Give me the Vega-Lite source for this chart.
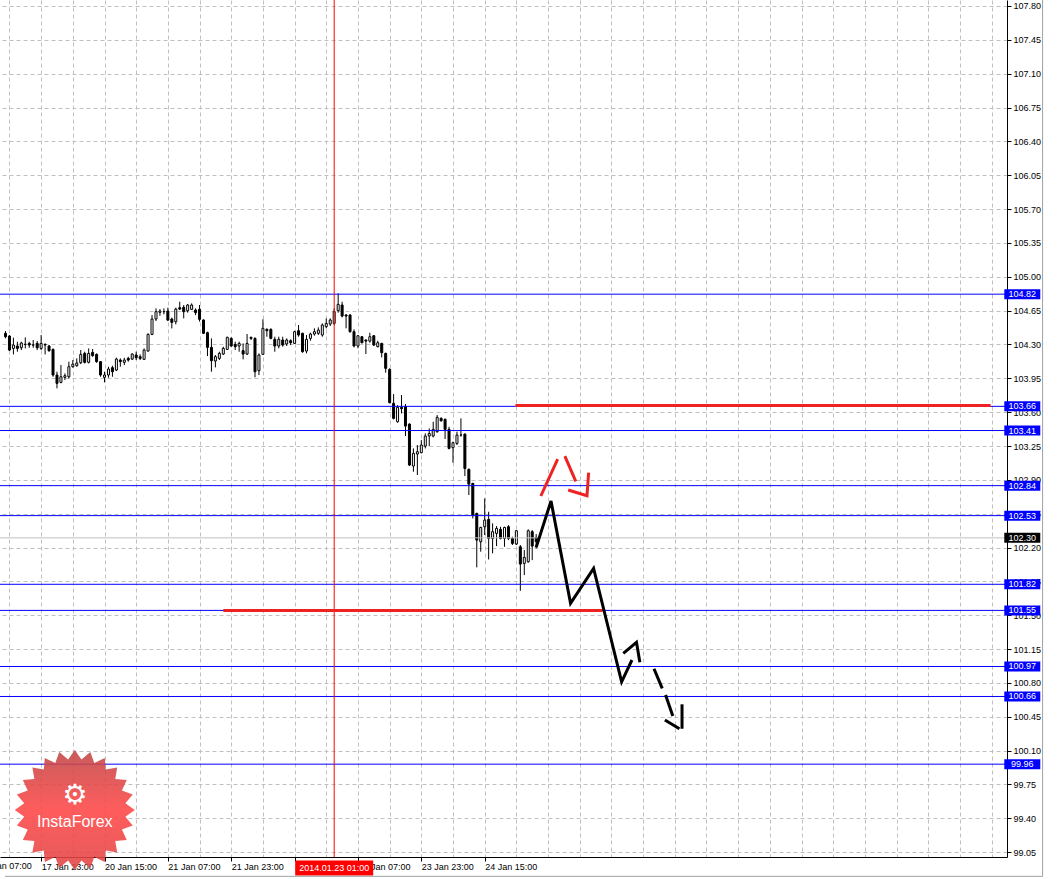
{
  "$schema": "https://vega.github.io/schema/vega-lite/v6.json",
  "width": 1007,
  "height": 857,
  "autosize": {"type": "none"},
  "padding": {"left": 0, "top": 0, "right": 51, "bottom": 22},
  "background": "white",
  "config": {
    "view": {"stroke": null},
    "axis": {"labelFont": "Liberation Sans", "labelFontSize": 9, "labelColor": "#000000", "title": null}
  },
  "datasets": {
    "candles": [
      {"t":0,"o":104.415,"h":104.439,"l":104.363,"c":104.380},
      {"t":1,"o":104.387,"h":104.397,"l":104.232,"c":104.242},
      {"t":2,"o":104.259,"h":104.370,"l":104.197,"c":104.294},
      {"t":3,"o":104.284,"h":104.328,"l":104.225,"c":104.259},
      {"t":4,"o":104.266,"h":104.328,"l":104.242,"c":104.315},
      {"t":5,"o":104.301,"h":104.373,"l":104.259,"c":104.301},
      {"t":6,"o":104.311,"h":104.328,"l":104.266,"c":104.294},
      {"t":7,"o":104.294,"h":104.346,"l":104.266,"c":104.294},
      {"t":8,"o":104.311,"h":104.335,"l":104.242,"c":104.266},
      {"t":9,"o":104.259,"h":104.397,"l":104.242,"c":104.311},
      {"t":10,"o":104.301,"h":104.311,"l":104.197,"c":104.294},
      {"t":11,"o":104.284,"h":104.294,"l":104.225,"c":104.235},
      {"t":12,"o":104.249,"h":104.259,"l":103.966,"c":103.984},
      {"t":13,"o":103.984,"h":104.018,"l":103.846,"c":103.898},
      {"t":14,"o":103.908,"h":104.087,"l":103.898,"c":103.966},
      {"t":15,"o":103.960,"h":104.001,"l":103.932,"c":103.977},
      {"t":16,"o":103.966,"h":104.122,"l":103.949,"c":104.070},
      {"t":17,"o":104.070,"h":104.139,"l":104.060,"c":104.097},
      {"t":18,"o":104.080,"h":104.156,"l":104.070,"c":104.108},
      {"t":19,"o":104.111,"h":104.242,"l":104.097,"c":104.197},
      {"t":20,"o":104.208,"h":104.225,"l":104.104,"c":104.115},
      {"t":21,"o":104.115,"h":104.259,"l":104.104,"c":104.208},
      {"t":22,"o":104.218,"h":104.253,"l":104.173,"c":104.184},
      {"t":23,"o":104.197,"h":104.208,"l":104.111,"c":104.122},
      {"t":24,"o":104.122,"h":104.128,"l":103.966,"c":103.984},
      {"t":25,"o":103.960,"h":104.018,"l":103.908,"c":103.984},
      {"t":26,"o":103.984,"h":104.070,"l":103.956,"c":104.046},
      {"t":27,"o":104.060,"h":104.080,"l":103.966,"c":104.018},
      {"t":28,"o":104.035,"h":104.163,"l":104.025,"c":104.149},
      {"t":29,"o":104.139,"h":104.156,"l":104.070,"c":104.122},
      {"t":30,"o":104.115,"h":104.163,"l":104.087,"c":104.139},
      {"t":31,"o":104.156,"h":104.173,"l":104.122,"c":104.139},
      {"t":32,"o":104.149,"h":104.208,"l":104.139,"c":104.201},
      {"t":33,"o":104.191,"h":104.225,"l":104.139,"c":104.163},
      {"t":34,"o":104.173,"h":104.197,"l":104.139,"c":104.156},
      {"t":35,"o":104.146,"h":104.259,"l":104.139,"c":104.242},
      {"t":36,"o":104.232,"h":104.415,"l":104.225,"c":104.404},
      {"t":37,"o":104.404,"h":104.604,"l":104.397,"c":104.563},
      {"t":38,"o":104.563,"h":104.673,"l":104.542,"c":104.639},
      {"t":39,"o":104.632,"h":104.666,"l":104.597,"c":104.646},
      {"t":40,"o":104.639,"h":104.673,"l":104.611,"c":104.639},
      {"t":41,"o":104.646,"h":104.680,"l":104.542,"c":104.552},
      {"t":42,"o":104.563,"h":104.577,"l":104.466,"c":104.528},
      {"t":43,"o":104.535,"h":104.680,"l":104.508,"c":104.666},
      {"t":44,"o":104.680,"h":104.742,"l":104.656,"c":104.666},
      {"t":45,"o":104.684,"h":104.708,"l":104.570,"c":104.639},
      {"t":46,"o":104.649,"h":104.718,"l":104.629,"c":104.708},
      {"t":47,"o":104.663,"h":104.725,"l":104.656,"c":104.708},
      {"t":48,"o":104.656,"h":104.673,"l":104.604,"c":104.629},
      {"t":49,"o":104.663,"h":104.708,"l":104.536,"c":104.560},
      {"t":50,"o":104.553,"h":104.560,"l":104.408,"c":104.415},
      {"t":51,"o":104.422,"h":104.432,"l":104.180,"c":104.270},
      {"t":52,"o":104.270,"h":104.363,"l":104.018,"c":104.132},
      {"t":53,"o":104.129,"h":104.191,"l":104.063,"c":104.174},
      {"t":54,"o":104.156,"h":104.225,"l":104.139,"c":104.208},
      {"t":55,"o":104.201,"h":104.277,"l":104.191,"c":104.260},
      {"t":56,"o":104.249,"h":104.380,"l":104.243,"c":104.374},
      {"t":57,"o":104.363,"h":104.374,"l":104.277,"c":104.284},
      {"t":58,"o":104.301,"h":104.329,"l":104.243,"c":104.277},
      {"t":59,"o":104.284,"h":104.329,"l":104.225,"c":104.311},
      {"t":60,"o":104.236,"h":104.311,"l":104.146,"c":104.201},
      {"t":61,"o":104.201,"h":104.408,"l":104.191,"c":104.311},
      {"t":62,"o":104.374,"h":104.380,"l":104.346,"c":104.363},
      {"t":63,"o":104.363,"h":104.374,"l":103.960,"c":104.018},
      {"t":64,"o":104.029,"h":104.208,"l":103.984,"c":104.191},
      {"t":65,"o":104.198,"h":104.560,"l":104.191,"c":104.467},
      {"t":66,"o":104.456,"h":104.467,"l":104.380,"c":104.442},
      {"t":67,"o":104.456,"h":104.467,"l":104.353,"c":104.363},
      {"t":68,"o":104.353,"h":104.380,"l":104.225,"c":104.284},
      {"t":69,"o":104.284,"h":104.380,"l":104.260,"c":104.353},
      {"t":70,"o":104.346,"h":104.380,"l":104.277,"c":104.294},
      {"t":71,"o":104.305,"h":104.363,"l":104.284,"c":104.346},
      {"t":72,"o":104.339,"h":104.353,"l":104.294,"c":104.318},
      {"t":73,"o":104.311,"h":104.442,"l":104.305,"c":104.432},
      {"t":74,"o":104.442,"h":104.501,"l":104.380,"c":104.398},
      {"t":75,"o":104.415,"h":104.422,"l":104.215,"c":104.225},
      {"t":76,"o":104.232,"h":104.398,"l":104.208,"c":104.353},
      {"t":77,"o":104.363,"h":104.422,"l":104.339,"c":104.408},
      {"t":78,"o":104.408,"h":104.467,"l":104.391,"c":104.432},
      {"t":79,"o":104.415,"h":104.477,"l":104.398,"c":104.449},
      {"t":80,"o":104.398,"h":104.518,"l":104.380,"c":104.501},
      {"t":81,"o":104.484,"h":104.570,"l":104.467,"c":104.518},
      {"t":82,"o":104.511,"h":104.570,"l":104.491,"c":104.553},
      {"t":83,"o":104.518,"h":104.673,"l":104.501,"c":104.639},
      {"t":84,"o":104.649,"h":104.829,"l":104.629,"c":104.715},
      {"t":85,"o":104.708,"h":104.742,"l":104.580,"c":104.594},
      {"t":86,"o":104.604,"h":104.615,"l":104.467,"c":104.594},
      {"t":87,"o":104.604,"h":104.615,"l":104.422,"c":104.432},
      {"t":88,"o":104.432,"h":104.456,"l":104.270,"c":104.284},
      {"t":89,"o":104.284,"h":104.398,"l":104.260,"c":104.390},
      {"t":90,"o":104.380,"h":104.387,"l":104.311,"c":104.318},
      {"t":91,"o":104.346,"h":104.352,"l":104.201,"c":104.335},
      {"t":92,"o":104.335,"h":104.421,"l":104.318,"c":104.380},
      {"t":93,"o":104.390,"h":104.397,"l":104.284,"c":104.294},
      {"t":94,"o":104.277,"h":104.339,"l":104.270,"c":104.318},
      {"t":95,"o":104.311,"h":104.318,"l":104.166,"c":104.215},
      {"t":96,"o":104.208,"h":104.215,"l":104.008,"c":104.053},
      {"t":97,"o":104.042,"h":104.053,"l":103.691,"c":103.698},
      {"t":98,"o":103.691,"h":103.787,"l":103.525,"c":103.536},
      {"t":99,"o":103.501,"h":103.673,"l":103.491,"c":103.649},
      {"t":100,"o":103.649,"h":103.777,"l":103.587,"c":103.636},
      {"t":101,"o":103.656,"h":103.684,"l":103.353,"c":103.456},
      {"t":102,"o":103.477,"h":103.484,"l":103.043,"c":103.053},
      {"t":103,"o":103.043,"h":103.225,"l":102.984,"c":103.174},
      {"t":104,"o":103.167,"h":103.260,"l":102.950,"c":103.191},
      {"t":105,"o":103.181,"h":103.311,"l":103.174,"c":103.260},
      {"t":106,"o":103.249,"h":103.380,"l":103.225,"c":103.353},
      {"t":107,"o":103.353,"h":103.432,"l":103.249,"c":103.380},
      {"t":108,"o":103.353,"h":103.501,"l":103.339,"c":103.422},
      {"t":109,"o":103.398,"h":103.570,"l":103.387,"c":103.546},
      {"t":110,"o":103.536,"h":103.546,"l":103.501,"c":103.511},
      {"t":111,"o":103.525,"h":103.536,"l":103.322,"c":103.422},
      {"t":112,"o":103.422,"h":103.449,"l":103.215,"c":103.225},
      {"t":113,"o":103.232,"h":103.294,"l":103.077,"c":103.284},
      {"t":114,"o":103.277,"h":103.398,"l":103.260,"c":103.363},
      {"t":115,"o":103.363,"h":103.536,"l":103.346,"c":103.363},
      {"t":116,"o":103.373,"h":103.380,"l":102.939,"c":103.018},
      {"t":117,"o":103.008,"h":103.018,"l":102.743,"c":102.856},
      {"t":118,"o":102.863,"h":102.870,"l":102.501,"c":102.536},
      {"t":119,"o":102.553,"h":102.560,"l":101.995,"c":102.277},
      {"t":120,"o":102.260,"h":102.415,"l":102.157,"c":102.408},
      {"t":121,"o":102.415,"h":102.708,"l":102.329,"c":102.484},
      {"t":122,"o":102.491,"h":102.570,"l":102.077,"c":102.294},
      {"t":123,"o":102.294,"h":102.450,"l":102.140,"c":102.364},
      {"t":124,"o":102.346,"h":102.422,"l":102.215,"c":102.398},
      {"t":125,"o":102.388,"h":102.415,"l":102.284,"c":102.294},
      {"t":126,"o":102.294,"h":102.415,"l":102.208,"c":102.408},
      {"t":127,"o":102.415,"h":102.432,"l":102.277,"c":102.294},
      {"t":128,"o":102.294,"h":102.312,"l":102.226,"c":102.243},
      {"t":129,"o":102.236,"h":102.381,"l":102.226,"c":102.374},
      {"t":130,"o":102.208,"h":102.226,"l":101.753,"c":102.029},
      {"t":131,"o":102.036,"h":102.174,"l":101.915,"c":102.098},
      {"t":132,"o":102.053,"h":102.388,"l":102.043,"c":102.374},
      {"t":133,"o":102.364,"h":102.381,"l":102.070,"c":102.215},
      {"t":134,"o":102.305,"h":102.339,"l":102.191,"c":102.260}
    ],
    "levels": [
      {"p":104.82},{"p":103.66},{"p":103.41},{"p":102.84},{"p":102.53},
      {"p":101.82},{"p":101.55},{"p":100.97},{"p":100.66},{"p":99.96}
    ],
    "bid": [{"p":102.30}],
    "vline": [{"t":83}],
    "redseg": [
      {"t":128.75,"t2":248.75,"p":103.67},
      {"t":55,"t2":150.75,"p":101.55}
    ],
    "forecast": [
      {"kind":"f","seg":"A","ord":0,"t":134,"p":102.202},
      {"kind":"f","seg":"A","ord":1,"t":137.75,"p":102.681},
      {"kind":"f","seg":"A","ord":2,"t":142.68,"p":101.623},
      {"kind":"f","seg":"A","ord":3,"t":148.5,"p":101.985},
      {"kind":"f","seg":"A","ord":4,"t":155.58,"p":100.812},
      {"kind":"f","seg":"A","ord":5,"t":158.18,"p":101.037},
      {"kind":"f","seg":"B","ord":0,"t":156,"p":101.106},
      {"kind":"f","seg":"B","ord":1,"t":159.33,"p":101.22},
      {"kind":"f","seg":"B","ord":2,"t":160.18,"p":101.013},
      {"kind":"f","seg":"C","ord":0,"t":163.75,"p":100.947},
      {"kind":"f","seg":"C","ord":1,"t":165.83,"p":100.744},
      {"kind":"f","seg":"D","ord":0,"t":166.68,"p":100.675},
      {"kind":"f","seg":"D","ord":1,"t":168.5,"p":100.458},
      {"kind":"f","seg":"E","ord":0,"t":166.5,"p":100.416},
      {"kind":"f","seg":"E","ord":1,"t":170.18,"p":100.326},
      {"kind":"f","seg":"F","ord":0,"t":170.83,"p":100.579},
      {"kind":"f","seg":"F","ord":1,"t":170.83,"p":100.326},
      {"kind":"r","seg":"R1","ord":0,"t":135.18,"p":102.733},
      {"kind":"r","seg":"R1","ord":1,"t":139.43,"p":103.115},
      {"kind":"r","seg":"R2","ord":0,"t":141.25,"p":103.146},
      {"kind":"r","seg":"R2","ord":1,"t":144,"p":102.885},
      {"kind":"r","seg":"R3","ord":0,"t":142.08,"p":102.795},
      {"kind":"r","seg":"R3","ord":1,"t":146.83,"p":102.736},
      {"kind":"r","seg":"R3","ord":2,"t":147.25,"p":102.974}
    ],
    "tags": [
      {"p":104.82,"label":"104.82"},{"p":103.66,"label":"103.66"},{"p":103.41,"label":"103.41"},
      {"p":102.84,"label":"102.84"},{"p":102.53,"label":"102.53"},{"p":102.30,"label":"102.30"},
      {"p":101.82,"label":"101.82"},{"p":101.55,"label":"101.55"},{"p":100.97,"label":"100.97"},
      {"p":100.66,"label":"100.66"},{"p":99.96,"label":"99.96"}
    ],
    "datelabel": [{"t":83,"label":"2014.01.23 01:00"}],
    "cutlabel": [{"t":-6.5,"label":"17 Jan 07:00"}],
    "logo": [{"t":17.5,"name":"InstaForex"}],
    "frame": [{"t":261.875,"p":107.862,"p2":98.80}],
    "frameb": [{"t":-0.125,"t2":261.875,"p":98.80}]
  },
  "layer": [
    {
      "data": {"name": "candles"},
      "mark": {"type": "rule", "color": "#000000", "strokeWidth": 1},
      "encoding": {
        "x": {
          "field": "t", "type": "quantitative",
          "scale": {"domain": [-0.125, 251.625], "nice": false, "zero": false},
          "axis": {
            "orient": "bottom",
            "values": [1,9,17,25,33,41,49,57,65,73,81,89,97,105,113,121,129,137,145,153,161,169,177,185,193,201,209,217,225,233,241,249],
            "tickCount": 500,
            "labelExpr": "datum.value == 9 ? '17 Jan 23:00' : datum.value == 25 ? '20 Jan 15:00' : datum.value == 41 ? '21 Jan 07:00' : datum.value == 57 ? '21 Jan 23:00' : datum.value == 73 ? '22 Jan 15:00' : datum.value == 89 ? '23 Jan 07:00' : datum.value == 105 ? '23 Jan 23:00' : datum.value == 121 ? '24 Jan 15:00' : ''",
            "labelAlign": "left",
            "labelPadding": 1,
            "labelFlush": false,
            "labelOverlap": false,
            "labelBound": false,
            "tickSize": 4,
            "tickColor": "#000000",
            "tickOpacity": {"condition": {"test": "datum.value <= 121 && (datum.value - 9) % 16 == 0", "value": 1}, "value": 0},
            "domainColor": "#000000",
            "grid": true,
            "gridColor": "#c0c0c0",
            "gridDash": [4, 3],
            "title": null
          }
        },
        "y": {
          "field": "l", "type": "quantitative",
          "scale": {"domain": [99.0, 107.862], "nice": false, "zero": false},
          "axis": {
            "orient": "right",
            "values": [99.05,99.40,99.75,100.10,100.45,100.80,101.15,101.50,101.85,102.20,102.55,102.90,103.25,103.60,103.95,104.30,104.65,105.00,105.35,105.70,106.05,106.40,106.75,107.10,107.45,107.80],
            "tickCount": 500,
            "format": ".2f",
            "labelPadding": 2,
            "labelFlush": false,
            "labelOverlap": false,
            "tickSize": 4,
            "tickColor": "#000000",
            "domainColor": "#000000",
            "grid": true,
            "gridColor": "#c0c0c0",
            "gridDash": [4, 3],
            "title": null
          }
        },
        "y2": {"field": "h"}
      }
    },
    {
      "data": {"name": "candles"},
      "mark": {"type": "bar", "size": 2, "stroke": "#000000", "strokeWidth": 1},
      "encoding": {
        "x": {"field": "t", "type": "quantitative", "scale": {"domain": [-0.125, 251.625], "nice": false, "zero": false}},
        "y": {"field": "o", "type": "quantitative", "scale": {"domain": [99.0, 107.862], "nice": false, "zero": false}},
        "y2": {"field": "c"},
        "fill": {"condition": {"test": "datum.c < datum.o", "value": "#000000"}, "value": "#ffffff"}
      }
    },
    {
      "data": {"name": "levels"},
      "mark": {"type": "rule", "color": "#0000ff", "strokeWidth": 1},
      "encoding": {
        "y": {"field": "p", "type": "quantitative", "scale": {"domain": [99.0, 107.862], "nice": false, "zero": false}}
      }
    },
    {
      "data": {"name": "bid"},
      "mark": {"type": "rule", "color": "#c0c0c0", "strokeWidth": 1},
      "encoding": {
        "y": {"field": "p", "type": "quantitative", "scale": {"domain": [99.0, 107.862], "nice": false, "zero": false}}
      }
    },
    {
      "data": {"name": "vline"},
      "mark": {"type": "rule", "color": "#ff0000", "strokeWidth": 1},
      "encoding": {
        "x": {"field": "t", "type": "quantitative", "scale": {"domain": [-0.125, 251.625], "nice": false, "zero": false}}
      }
    },
    {
      "data": {"name": "redseg"},
      "mark": {"type": "rule", "color": "#ee2222", "strokeWidth": 3},
      "encoding": {
        "x": {"field": "t", "type": "quantitative", "scale": {"domain": [-0.125, 251.625], "nice": false, "zero": false}},
        "x2": {"field": "t2"},
        "y": {"field": "p", "type": "quantitative", "scale": {"domain": [99.0, 107.862], "nice": false, "zero": false}}
      }
    },
    {
      "data": {"name": "forecast"},
      "mark": {"type": "line", "strokeWidth": 3, "strokeJoin": "miter", "strokeCap": "butt"},
      "encoding": {
        "x": {"field": "t", "type": "quantitative", "scale": {"domain": [-0.125, 251.625], "nice": false, "zero": false}},
        "y": {"field": "p", "type": "quantitative", "scale": {"domain": [99.0, 107.862], "nice": false, "zero": false}},
        "detail": {"field": "seg", "type": "nominal"},
        "order": {"field": "ord", "type": "quantitative"},
        "color": {"field": "kind", "type": "nominal", "scale": {"domain": ["f", "r"], "range": ["#000000", "#ee2222"]}, "legend": null}
      }
    },
    {
      "data": {"name": "logo"},
      "mark": {
        "type": "point",
        "shape": "M1,0L0.843,0.111L0.966,0.259L0.785,0.325L0.866,0.5L0.674,0.517L0.707,0.707L0.517,0.674L0.5,0.866L0.325,0.785L0.259,0.966L0.111,0.843L0,1L-0.111,0.843L-0.259,0.966L-0.325,0.785L-0.5,0.866L-0.517,0.674L-0.707,0.707L-0.674,0.517L-0.866,0.5L-0.785,0.325L-0.966,0.259L-0.843,0.111L-1,0L-0.843,-0.111L-0.966,-0.259L-0.785,-0.325L-0.866,-0.5L-0.674,-0.517L-0.707,-0.707L-0.517,-0.674L-0.5,-0.866L-0.325,-0.785L-0.259,-0.966L-0.111,-0.843L0,-1L0.111,-0.843L0.259,-0.966L0.325,-0.785L0.5,-0.866L0.517,-0.674L0.707,-0.707L0.674,-0.517L0.866,-0.5L0.785,-0.325L0.966,-0.259L0.843,-0.111Z",
        "filled": true,
        "size": 14400,
        "strokeWidth": 0,
        "opacity": 0.88,
        "fill": {"gradient": "linear", "x1": 0, "y1": 0, "x2": 0, "y2": 1, "stops": [{"offset": 0, "color": "#c04646"}, {"offset": 0.5, "color": "#ff4646"}, {"offset": 1, "color": "#e04444"}]}
      },
      "encoding": {
        "x": {"field": "t", "type": "quantitative", "scale": {"domain": [-0.125, 251.625], "nice": false, "zero": false}},
        "y": {"datum": 99.486, "type": "quantitative", "scale": {"domain": [99.0, 107.862], "nice": false, "zero": false}}
      }
    },
    {
      "data": {"name": "logo"},
      "mark": {"type": "text", "text": "⚙", "font": "DejaVu Sans", "fontSize": 28, "color": "#ffffff", "align": "center", "baseline": "middle"},
      "encoding": {
        "x": {"field": "t", "type": "quantitative", "scale": {"domain": [-0.125, 251.625], "nice": false, "zero": false}},
        "y": {"datum": 99.63, "type": "quantitative", "scale": {"domain": [99.0, 107.862], "nice": false, "zero": false}}
      }
    },
    {
      "data": {"name": "logo"},
      "mark": {"type": "text", "font": "Liberation Sans", "fontSize": 16, "color": "#ffffff", "align": "center", "baseline": "alphabetic"},
      "encoding": {
        "x": {"field": "t", "type": "quantitative", "scale": {"domain": [-0.125, 251.625], "nice": false, "zero": false}},
        "y": {"datum": 99.31, "type": "quantitative", "scale": {"domain": [99.0, 107.862], "nice": false, "zero": false}},
        "text": {"field": "name"}
      }
    },
    {
      "data": {"name": "tags"},
      "mark": {"type": "tick", "orient": "horizontal", "size": 36, "thickness": 10, "opacity": 1},
      "encoding": {
        "x": {"datum": 256.75, "type": "quantitative", "scale": {"domain": [-0.125, 251.625], "nice": false, "zero": false}},
        "y": {"field": "p", "type": "quantitative", "scale": {"domain": [99.0, 107.862], "nice": false, "zero": false}},
        "color": {"condition": {"test": "datum.label == '102.30'", "value": "#000000"}, "value": "#0000ff"}
      }
    },
    {
      "data": {"name": "tags"},
      "mark": {"type": "text", "font": "Liberation Sans", "fontSize": 9, "color": "#ffffff", "align": "center", "baseline": "middle"},
      "encoding": {
        "x": {"datum": 256.75, "type": "quantitative", "scale": {"domain": [-0.125, 251.625], "nice": false, "zero": false}},
        "y": {"field": "p", "type": "quantitative", "scale": {"domain": [99.0, 107.862], "nice": false, "zero": false}},
        "text": {"field": "label"}
      }
    },
    {
      "data": {"name": "datelabel"},
      "mark": {"type": "tick", "orient": "horizontal", "size": 78, "thickness": 15, "color": "#ff0000", "opacity": 1},
      "encoding": {
        "x": {"field": "t", "type": "quantitative", "scale": {"domain": [-0.125, 251.625], "nice": false, "zero": false}},
        "y": {"datum": 98.886, "type": "quantitative", "scale": {"domain": [99.0, 107.862], "nice": false, "zero": false}}
      }
    },
    {
      "data": {"name": "datelabel"},
      "mark": {"type": "text", "font": "Liberation Sans", "fontSize": 9, "color": "#ffffff", "align": "center", "baseline": "middle"},
      "encoding": {
        "x": {"field": "t", "type": "quantitative", "scale": {"domain": [-0.125, 251.625], "nice": false, "zero": false}},
        "y": {"datum": 98.886, "type": "quantitative", "scale": {"domain": [99.0, 107.862], "nice": false, "zero": false}},
        "text": {"field": "label"}
      }
    },
    {
      "data": {"name": "cutlabel"},
      "mark": {"type": "text", "font": "Liberation Sans", "fontSize": 9, "color": "#000000", "align": "left", "baseline": "top"},
      "encoding": {
        "x": {"field": "t", "type": "quantitative", "scale": {"domain": [-0.125, 251.625], "nice": false, "zero": false}},
        "y": {"datum": 98.948, "type": "quantitative", "scale": {"domain": [99.0, 107.862], "nice": false, "zero": false}},
        "text": {"field": "label"}
      }
    },
    {
      "data": {"name": "frame"},
      "mark": {"type": "rule", "color": "#a0a0a0", "strokeWidth": 1},
      "encoding": {
        "x": {"field": "t", "type": "quantitative", "scale": {"domain": [-0.125, 251.625], "nice": false, "zero": false}},
        "y": {"field": "p", "type": "quantitative", "scale": {"domain": [99.0, 107.862], "nice": false, "zero": false}},
        "y2": {"field": "p2"}
      }
    },
    {
      "data": {"name": "frameb"},
      "mark": {"type": "rule", "color": "#a0a0a0", "strokeWidth": 1},
      "encoding": {
        "x": {"field": "t", "type": "quantitative", "scale": {"domain": [-0.125, 251.625], "nice": false, "zero": false}},
        "x2": {"field": "t2"},
        "y": {"field": "p", "type": "quantitative", "scale": {"domain": [99.0, 107.862], "nice": false, "zero": false}}
      }
    }
  ]
}
